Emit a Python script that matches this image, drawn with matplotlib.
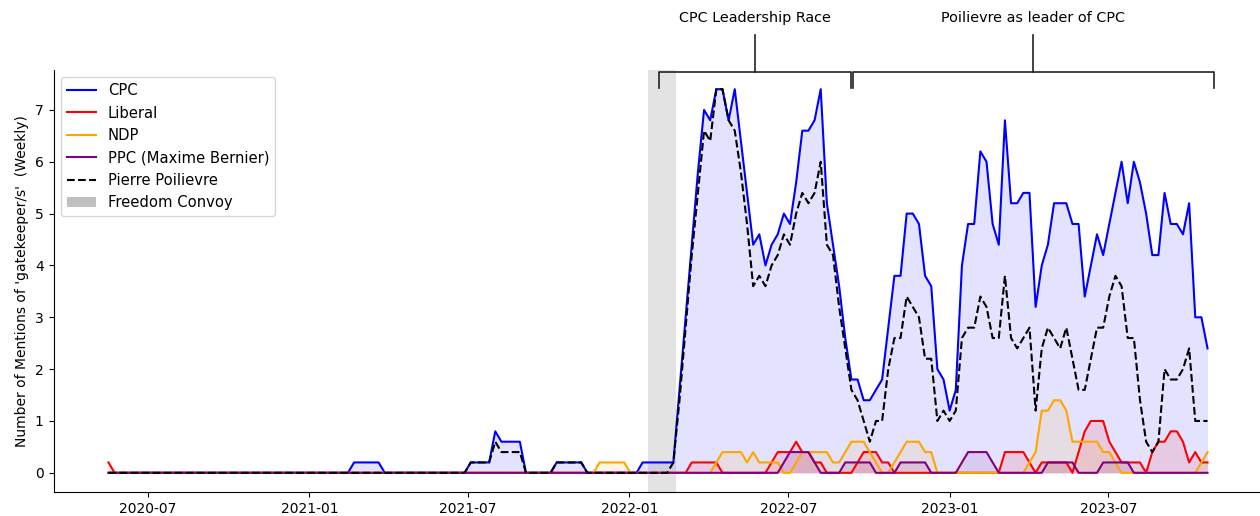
import pandas as pd
import matplotlib
matplotlib.use('Agg')
import matplotlib.pyplot as plt
import matplotlib.dates as mdates
from matplotlib.patches import Patch

# weekly mentions (5-week rolling mean), one value per week starting 2020-05-17
weeks = pd.date_range('2020-05-17', periods=180, freq='7D')

cpc = [0, 0, 0, 0, 0, 0, 0, 0, 0, 0, 0, 0, 0, 0, 0, 0, 0, 0, 0, 0,
       0, 0, 0, 0, 0, 0, 0, 0, 0, 0, 0, 0, 0, 0, 0, 0, 0, 0, 0, 0,
       0.2, 0.2, 0.2, 0.2, 0.2, 0, 0, 0, 0, 0, 0, 0, 0, 0, 0, 0, 0, 0, 0, 0.2,
       0.2, 0.2, 0.2, 0.8, 0.6, 0.6, 0.6, 0.6, 0, 0, 0, 0, 0, 0.2, 0.2, 0.2, 0.2, 0.2, 0, 0,
       0, 0, 0, 0, 0, 0, 0, 0.2, 0.2, 0.2, 0.2, 0.2, 0.2, 1.6, 3.0, 4.4, 5.8, 7.0, 6.8, 7.4,
       7.4, 6.8, 7.4, 6.4, 5.4, 4.4, 4.6, 4.0, 4.4, 4.6, 5.0, 4.8, 5.6, 6.6, 6.6, 6.8, 7.4, 5.2, 4.4, 3.6,
       2.6, 1.8, 1.8, 1.4, 1.4, 1.6, 1.8, 2.8, 3.8, 3.8, 5.0, 5.0, 4.8, 3.8, 3.6, 2.0, 1.8, 1.2, 1.6, 4.0,
       4.8, 4.8, 6.2, 6.0, 4.8, 4.4, 6.8, 5.2, 5.2, 5.4, 5.4, 3.2, 4.0, 4.4, 5.2, 5.2, 5.2, 4.8, 4.8, 3.4,
       4.0, 4.6, 4.2, 4.8, 5.4, 6.0, 5.2, 6.0, 5.6, 5.0, 4.2, 4.2, 5.4, 4.8, 4.8, 4.6, 5.2, 3.0, 3.0, 2.4]

liberal = [0.2, 0, 0, 0, 0, 0, 0, 0, 0, 0, 0, 0, 0, 0, 0, 0, 0, 0, 0, 0,
           0, 0, 0, 0, 0, 0, 0, 0, 0, 0, 0, 0, 0, 0, 0, 0, 0, 0, 0, 0,
           0, 0, 0, 0, 0, 0, 0, 0, 0, 0, 0, 0, 0, 0, 0, 0, 0, 0, 0, 0,
           0, 0, 0, 0, 0, 0, 0, 0, 0, 0, 0, 0, 0, 0, 0, 0, 0, 0, 0, 0,
           0, 0, 0, 0, 0, 0, 0, 0, 0, 0, 0, 0, 0, 0, 0, 0.2, 0.2, 0.2, 0.2, 0.2,
           0, 0, 0, 0, 0, 0, 0, 0, 0.2, 0.4, 0.4, 0.4, 0.6, 0.4, 0.4, 0.2, 0.2, 0, 0, 0,
           0, 0, 0.2, 0.4, 0.4, 0.4, 0.2, 0.2, 0, 0, 0, 0, 0, 0, 0, 0, 0, 0, 0, 0,
           0, 0, 0, 0, 0, 0, 0.4, 0.4, 0.4, 0.4, 0.2, 0, 0.2, 0.2, 0.2, 0.2, 0.2, 0, 0.4, 0.8,
           1.0, 1.0, 1.0, 0.6, 0.4, 0.2, 0.2, 0.2, 0.2, 0, 0.4, 0.6, 0.6, 0.8, 0.8, 0.6, 0.2, 0.4, 0.2, 0.2]

ndp = [0, 0, 0, 0, 0, 0, 0, 0, 0, 0, 0, 0, 0, 0, 0, 0, 0, 0, 0, 0,
       0, 0, 0, 0, 0, 0, 0, 0, 0, 0, 0, 0, 0, 0, 0, 0, 0, 0, 0, 0,
       0, 0, 0, 0, 0, 0, 0, 0, 0, 0, 0, 0, 0, 0, 0, 0, 0, 0, 0, 0,
       0, 0, 0, 0, 0, 0, 0, 0, 0, 0, 0, 0, 0, 0, 0, 0, 0, 0, 0, 0,
       0.2, 0.2, 0.2, 0.2, 0.2, 0, 0, 0, 0, 0, 0, 0, 0, 0, 0, 0, 0, 0, 0, 0.2,
       0.4, 0.4, 0.4, 0.4, 0.2, 0.4, 0.2, 0.2, 0.2, 0.2, 0, 0, 0.2, 0.4, 0.4, 0.4, 0.4, 0.4, 0.2, 0.2,
       0.4, 0.6, 0.6, 0.6, 0.4, 0.2, 0, 0, 0.2, 0.4, 0.6, 0.6, 0.6, 0.4, 0.4, 0, 0, 0, 0, 0,
       0, 0, 0, 0, 0, 0, 0, 0, 0, 0, 0.2, 0.4, 1.2, 1.2, 1.4, 1.4, 1.2, 0.6, 0.6, 0.6,
       0.6, 0.6, 0.4, 0.4, 0.2, 0, 0, 0, 0, 0, 0, 0, 0, 0, 0, 0, 0, 0, 0.2, 0.4]

ppc = [0, 0, 0, 0, 0, 0, 0, 0, 0, 0, 0, 0, 0, 0, 0, 0, 0, 0, 0, 0,
       0, 0, 0, 0, 0, 0, 0, 0, 0, 0, 0, 0, 0, 0, 0, 0, 0, 0, 0, 0,
       0, 0, 0, 0, 0, 0, 0, 0, 0, 0, 0, 0, 0, 0, 0, 0, 0, 0, 0, 0,
       0, 0, 0, 0, 0, 0, 0, 0, 0, 0, 0, 0, 0, 0, 0, 0, 0, 0, 0, 0,
       0, 0, 0, 0, 0, 0, 0, 0, 0, 0, 0, 0, 0, 0, 0, 0, 0, 0, 0, 0,
       0, 0, 0, 0, 0, 0, 0, 0, 0, 0, 0.2, 0.4, 0.4, 0.4, 0.4, 0.2, 0, 0, 0, 0,
       0.2, 0.2, 0.2, 0.2, 0.2, 0, 0, 0, 0, 0.2, 0.2, 0.2, 0.2, 0.2, 0, 0, 0, 0, 0, 0.2,
       0.4, 0.4, 0.4, 0.4, 0.2, 0, 0, 0, 0, 0, 0, 0, 0, 0.2, 0.2, 0.2, 0.2, 0.2, 0, 0,
       0, 0, 0.2, 0.2, 0.2, 0.2, 0.2, 0, 0, 0, 0, 0, 0, 0, 0, 0, 0, 0, 0, 0]

pierre = [0, 0, 0, 0, 0, 0, 0, 0, 0, 0, 0, 0, 0, 0, 0, 0, 0, 0, 0, 0,
          0, 0, 0, 0, 0, 0, 0, 0, 0, 0, 0, 0, 0, 0, 0, 0, 0, 0, 0, 0,
          0, 0, 0, 0, 0, 0, 0, 0, 0, 0, 0, 0, 0, 0, 0, 0, 0, 0, 0, 0.2,
          0.2, 0.2, 0.2, 0.6, 0.4, 0.4, 0.4, 0.4, 0, 0, 0, 0, 0, 0.2, 0.2, 0.2, 0.2, 0.2, 0, 0,
          0, 0, 0, 0, 0, 0, 0, 0, 0, 0, 0, 0, 0.2, 1.4, 2.8, 4.2, 5.4, 6.6, 6.4, 7.4,
          7.4, 6.8, 6.6, 5.8, 4.8, 3.6, 3.8, 3.6, 4.0, 4.2, 4.6, 4.4, 5.0, 5.4, 5.2, 5.4, 6.0, 4.4, 4.2, 3.2,
          2.4, 1.6, 1.4, 1.0, 0.6, 1.0, 1.0, 2.0, 2.6, 2.6, 3.4, 3.2, 3.0, 2.2, 2.2, 1.0, 1.2, 1.0, 1.2, 2.6,
          2.8, 2.8, 3.4, 3.2, 2.6, 2.6, 3.8, 2.6, 2.4, 2.6, 2.8, 1.2, 2.4, 2.8, 2.6, 2.4, 2.8, 2.2, 1.6, 1.6,
          2.2, 2.8, 2.8, 3.4, 3.8, 3.6, 2.6, 2.6, 1.4, 0.6, 0.4, 0.6, 2.0, 1.8, 1.8, 2.0, 2.4, 1.0, 1.0, 1.0]

convoy = (pd.Timestamp('2022-01-22'), pd.Timestamp('2022-02-23'))
race = (pd.Timestamp('2022-02-04'), pd.Timestamp('2022-09-10'))
leader = (pd.Timestamp('2022-09-13'), pd.Timestamp('2023-10-29'))

fig = plt.figure(figsize=(12.6, 5.16), dpi=100)
ax = fig.add_axes([53.5 / 1260, 24 / 516, 1209 / 1260, 422 / 516])

parties = [(cpc, 'blue', 'CPC'),
           (liberal, 'red', 'Liberal'),
           (ndp, 'orange', 'NDP'),
           (ppc, 'purple', 'PPC (Maxime Bernier)')]
for vals, col, lab in parties:
    ax.plot(weeks, vals, color=col, lw=1.5, label=lab)
    ax.fill_between(weeks, vals, color=col, alpha=0.11, lw=0)
ax.plot(weeks, pierre, 'k--', lw=1.5, label='Pierre Poilievre')

ax.axvspan(convoy[0], convoy[1], color='gray', alpha=0.22, lw=0)

pad = pd.Timedelta(days=62.65)
ax.set_xlim(weeks[0] - pad, weeks[-1] + pad)
ax.set_ylim(-0.37, 7.77)
ax.xaxis.set_major_locator(mdates.MonthLocator(bymonth=(1, 7)))
ax.xaxis.set_major_formatter(mdates.DateFormatter('%Y-%m'))
ax.tick_params(labelsize=10)
ax.spines['top'].set_visible(False)
ax.spines['right'].set_visible(False)
ax.set_ylabel("Number of Mentions of 'gatekeeper/s'  (Weekly)", fontsize=10)

# brackets above the plot for the two periods
trans = ax.get_xaxis_transform()
def bracket(start, end, text):
    mid = start + (end - start) / 2
    ax.plot([start, start, end, end], [0.957, 0.995, 0.995, 0.957],
            color='#222222', lw=1.2, transform=trans, clip_on=False)
    ax.plot([mid, mid], [0.995, 1.083], color='#222222', lw=1.2,
            transform=trans, clip_on=False)
    ax.text(mid, 1.123, text, transform=trans, ha='center', va='center', fontsize=10.4)

bracket(race[0], race[1], 'CPC Leadership Race')
bracket(leader[0], leader[1], 'Poilievre as leader of CPC')

handles, labels = ax.get_legend_handles_labels()
handles.append(Patch(facecolor='gray', alpha=0.5, lw=0))
labels.append('Freedom Convoy')
ax.legend(handles, labels, loc='upper left', fontsize=10.6)

fig.savefig('out.png', dpi=100)
